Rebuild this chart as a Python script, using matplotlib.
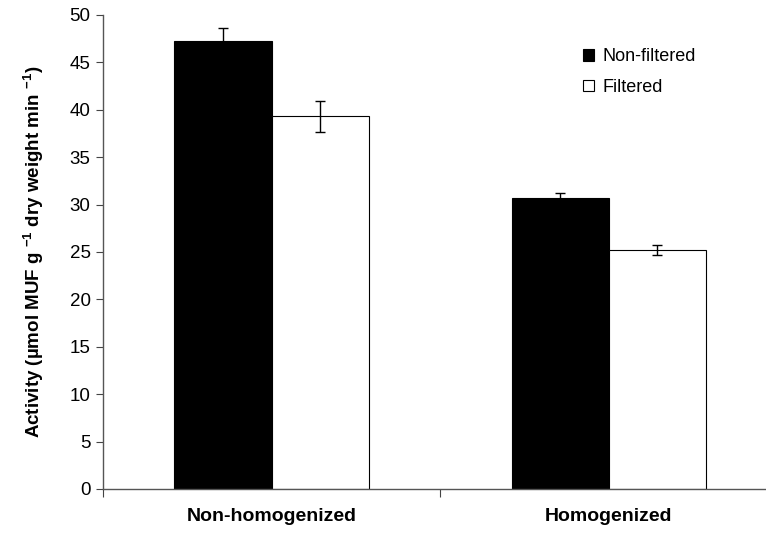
import matplotlib.pyplot as plt
import numpy as np

plt.rcParams["font.family"] = ["Liberation Sans", "DejaVu Sans"]
plt.rcParams["mathtext.fontset"] = "custom"
plt.rcParams["mathtext.rm"] = "Liberation Sans"
plt.rcParams["mathtext.bf"] = "Liberation Sans:bold"

categories = ["Non-homogenized", "Homogenized"]
non_filtered = [47.3, 30.7]
non_filtered_err = [1.3, 0.5]
filtered = [39.3, 25.2]
filtered_err = [1.6, 0.55]
y_ticks = [0, 5, 10, 15, 20, 25, 30, 35, 40, 45, 50]

fig = plt.figure(figsize=(7.66, 5.33), dpi=100)
ax = fig.add_axes([0.1345, 0.0826, 0.880, 0.8893])

x = np.arange(len(categories))
width = 0.288
err_kw = dict(ecolor="black", elinewidth=1.0, capsize=3.5, capthick=1.0)
ax.bar(x - width / 2, non_filtered, width, yerr=non_filtered_err, color="black",
       edgecolor="black", linewidth=0.8, label="Non-filtered", error_kw=err_kw)
ax.bar(x + width / 2, filtered, width, yerr=filtered_err, color="white",
       edgecolor="black", linewidth=0.8, label="Filtered", error_kw=err_kw)

ax.set_xlim(-0.5, 1.5)
ax.set_ylim(0, 50)
ax.set_yticks(y_ticks)
ax.tick_params(axis="y", labelsize=13.5, length=5, width=0.8, color="#444444", pad=4)

# category labels in the middle, ticks on the category boundaries
ax.set_xticks(x)
ax.set_xticklabels(categories, fontsize=14, fontweight="bold")
ax.tick_params(axis="x", which="major", length=0, pad=14)
ax.set_xticks([-0.5, 0.5, 1.5], minor=True)
ax.tick_params(axis="x", which="minor", length=6, width=0.8, color="#444444")

for side in ["top", "right"]:
    ax.spines[side].set_visible(False)
for side in ["left", "bottom"]:
    ax.spines[side].set_color("#555555")
    ax.spines[side].set_linewidth(1.0)

ax.set_ylabel(r"Activity (µmol MUF g $^{\mathbf{-1}}$ dry weight min $^{\mathbf{-1}}$)",
              fontsize=13.5, fontweight="bold")
ax.yaxis.set_label_coords(-0.085, 0.5)

ax.legend(loc="upper left", bbox_to_anchor=(0.712, 0.93), frameon=False,
          fontsize=13, handlelength=0.6, handleheight=0.6, handletextpad=0.5,
          labelspacing=0.75, borderaxespad=0, borderpad=0)

fig.savefig("out.png", dpi=100)
